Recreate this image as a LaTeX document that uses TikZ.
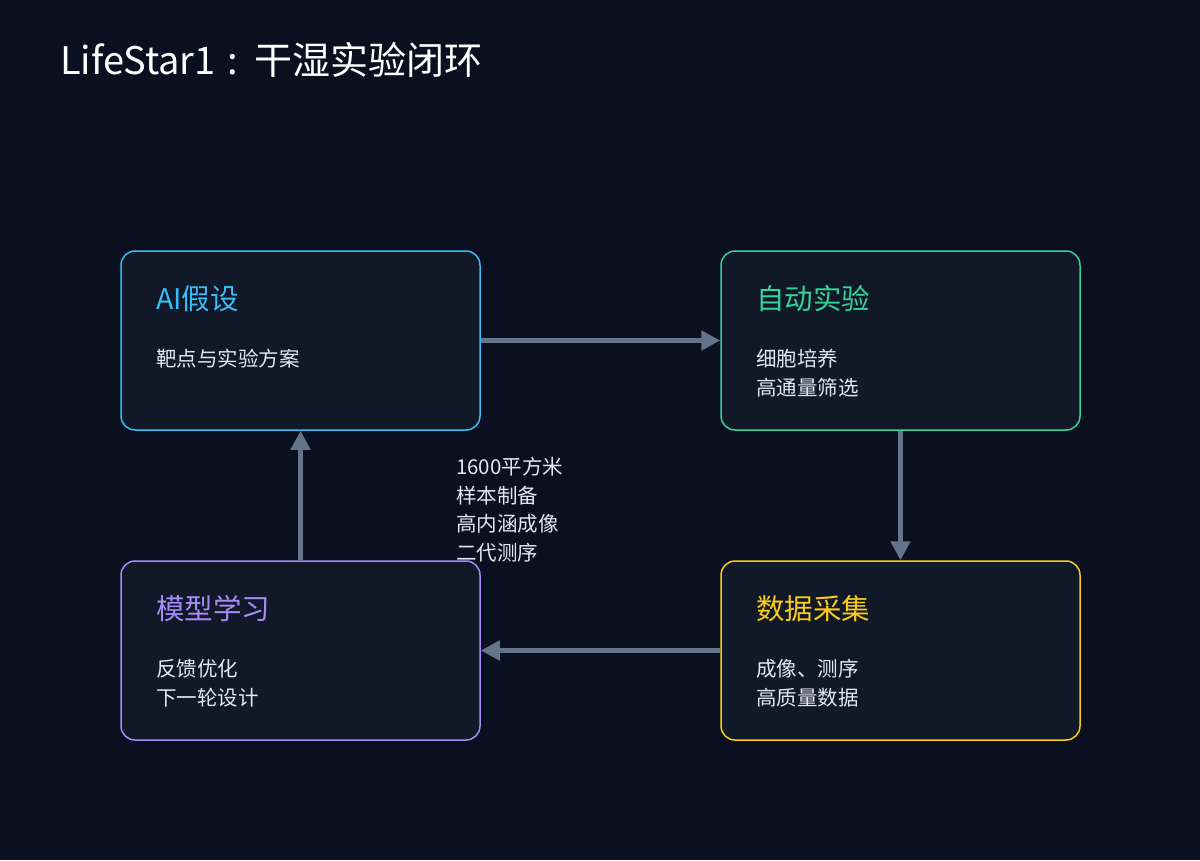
\documentclass[tikz,border=0pt]{standalone}
\usepackage{fontspec}
\setmainfont{Noto Sans CJK SC}
\usetikzlibrary{arrows.meta}
\definecolor{bg}{HTML}{0B1020}
\definecolor{boxfill}{HTML}{111827}
\definecolor{cblue}{HTML}{38BDF8}
\definecolor{cgreen}{HTML}{34D399}
\definecolor{cyellow}{HTML}{FACC15}
\definecolor{cpurple}{HTML}{A78BFA}
\definecolor{arrowc}{HTML}{64748B}
\definecolor{txt}{HTML}{E2E8F0}
\begin{document}
\begin{tikzpicture}[x=1pt,y=-1pt,
  card/.style={draw=#1, fill=boxfill, line width=1.5pt, rounded corners=14pt,
    minimum width=359pt, minimum height=179pt, inner sep=0pt},
  cardtitle/.style={anchor=base west, inner sep=0pt, text=#1, font=\fontsize{28.5}{30}\selectfont},
  bodytext/.style={anchor=base west, inner sep=0pt, text=txt, font=\fontsize{20.5}{29}\selectfont},
  flow/.style={draw=arrowc, line width=5pt, -{Triangle[length=19pt,width=19pt]}}
]
\fill[bg] (0,0) rectangle (1200,860);
\useasboundingbox (0,0) rectangle (1200,860);

\node[anchor=base west, inner sep=0pt, text=white, font=\fontsize{38}{44}\selectfont] (title) at (60,74) {LifeStar1\hspace{0.3em}:\hspace{0.45em}干湿实验闭环};

\node[card=cblue]   (hyp)  at (300.5,340.5) {};
\node[card=cgreen]  (exp)  at (900.5,340.5) {};
\node[card=cyellow] (data) at (900.5,650.5) {};
\node[card=cpurple] (learn) at (300.5,650.5) {};

\node[cardtitle=cblue] (hypT) at (156,309) {AI假设};
\node[bodytext] (hypB1) at (156,366) {靶点与实验方案};

\node[cardtitle=cgreen] (expT) at (756,309) {自动实验};
\node[bodytext] (expB1) at (756,366) {细胞培养};
\node[bodytext] (expB2) at (756,395) {高通量筛选};

\node[cardtitle=cyellow] (dataT) at (756,619) {数据采集};
\node[bodytext] (dataB1) at (756,676) {成像、测序};
\node[bodytext] (dataB2) at (756,705) {高质量数据};

\node[cardtitle=cpurple] (learnT) at (156,619) {模型学习};
\node[bodytext] (learnB1) at (156,676) {反馈优化};
\node[bodytext] (learnB2) at (156,705) {下一轮设计};

\node[bodytext] (m1) at (456,474) {1600平方米};
\node[bodytext] (m2) at (456,503) {样本制备};
\node[bodytext] (m3) at (456,531) {高内涵成像};
\node[bodytext] (m4) at (456,560) {二代测序};

\draw[flow] (hyp.east) -- (exp.west);
\draw[flow] (exp.south) -- (data.north);
\draw[flow] (data.west) -- (learn.east);
\draw[flow] (learn.north) -- (hyp.south);
\end{tikzpicture}
\end{document}
